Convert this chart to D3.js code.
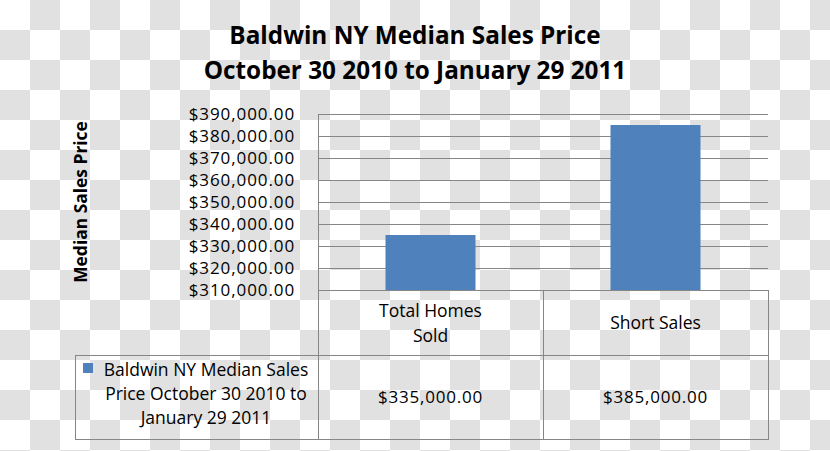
<!DOCTYPE html>
<html><head><meta charset="utf-8">
<script src="https://cdn.jsdelivr.net/npm/d3@7"></script>
<style>
html,body{margin:0;padding:0;background:#fff;}
svg text{font-family:"Open Sans",sans-serif;fill:#000;}
</style></head>
<body>
<svg id="c" width="830" height="451"></svg>
<script>
const titleLines = ["Baldwin NY Median Sales Price", "October 30 2010 to January 29 2011"];
const categories = [["Total Homes", "Sold"], ["Short Sales"]];
const values = [335000, 385000];
const valueLabels = ["$335,000.00", "$385,000.00"];
const tickValues = [310000, 320000, 330000, 340000, 350000, 360000, 370000, 380000, 390000];
const seriesName = ["Baldwin NY Median Sales", "Price October 30 2010 to", "January 29 2011"];
const yTitle = "Median Sales Price";

const svg = d3.select("#c");
const W = 830, H = 451;

// checkerboard background
const defs = svg.append("defs");
const pat = defs.append("pattern").attr("id","chk").attr("width",60).attr("height",60)
  .attr("patternUnits","userSpaceOnUse");
pat.append("rect").attr("width",60).attr("height",60).attr("fill","#ffffff");
pat.append("rect").attr("x",30).attr("y",0).attr("width",30).attr("height",30).attr("fill","#e1e1e1");
pat.append("rect").attr("x",0).attr("y",30).attr("width",30).attr("height",30).attr("fill","#e1e1e1");
svg.append("rect").attr("width",W).attr("height",H).attr("fill","url(#chk)");

const L = 318, R = 768, T = 114, B = 290;
const y = d3.scaleLinear().domain([310000, 390000]).range([B, T]);
const x = d3.scaleBand().domain(d3.range(categories.length)).range([L, R]).paddingInner(0).paddingOuter(0);
const grid = "#868686";

// title
svg.append("g").selectAll("text").data(titleLines).join("text")
  .attr("x", 415).attr("y", (d,i)=>44 + i*35)
  .attr("text-anchor","middle").attr("font-weight","bold").attr("font-size",24.3)
  .text(d=>d);

// gridlines
svg.append("g").selectAll("line").data(tickValues).join("line")
  .attr("x1",L).attr("x2",R).attr("y1",d=>Math.round(y(d))+0.5).attr("y2",d=>Math.round(y(d))+0.5)
  .attr("stroke",grid).attr("stroke-width",1);
// y axis line
svg.append("line").attr("x1",L+0.5).attr("x2",L+0.5).attr("y1",T).attr("y2",B).attr("stroke",grid);

// y axis via d3.axisLeft
const yAxis = d3.axisLeft(y).tickValues(tickValues).tickSize(0).tickPadding(0)
  .tickFormat(d => "$" + d3.format(",.2f")(d));
const ga = svg.append("g").attr("transform",`translate(${295},0)`).call(yAxis);
ga.select(".domain").remove();
ga.selectAll("text").attr("font-family","Open Sans").attr("font-size",17).attr("fill","#000")
  .attr("letter-spacing","0.9px").attr("dy","0.35em");

// y title
svg.append("text").attr("transform","translate(87,202) rotate(-90)")
  .attr("text-anchor","middle").attr("font-weight","bold").attr("font-size",17.4).text(yTitle);

// bars
const bw = 90;
svg.append("g").selectAll("rect").data(values).join("rect")
  .attr("x",(d,i)=>x(i)+x.bandwidth()/2-bw/2).attr("width",bw)
  .attr("y",d=>y(d)).attr("height",d=>B-y(d)).attr("fill","#4f81bd");

// data table
const tb = svg.append("g").attr("stroke",grid).attr("fill","none");
tb.append("line").attr("x1",L+0.5).attr("x2",L+0.5).attr("y1",B).attr("y2",440);
tb.append("line").attr("x1",R+0.5).attr("x2",R+0.5).attr("y1",B).attr("y2",440);
tb.append("line").attr("x1",x(1)+0.5).attr("x2",x(1)+0.5).attr("y1",B).attr("y2",440);
tb.append("line").attr("x1",75).attr("x2",R).attr("y1",355.5).attr("y2",355.5);
tb.append("line").attr("x1",75).attr("x2",R).attr("y1",439.5).attr("y2",439.5);
tb.append("line").attr("x1",75.5).attr("x2",75.5).attr("y1",355).attr("y2",440);

// category labels
categories.forEach((lines,i)=>{
  const cx = x(i)+x.bandwidth()/2;
  const y0 = 323 - (lines.length-1)*12.5;
  lines.forEach((t,j)=>{
    svg.append("text").attr("x",cx).attr("y",y0+j*25).attr("dy","0.35em")
      .attr("text-anchor","middle").attr("font-size",17.5).text(t);
  });
});
// values row
valueLabels.forEach((t,i)=>{
  svg.append("text").attr("x",x(i)+x.bandwidth()/2).attr("y",397).attr("dy","0.35em")
    .attr("text-anchor","middle").attr("font-size",17).attr("letter-spacing","0.8px").text(t);
});
// legend key
svg.append("rect").attr("x",83).attr("y",363).attr("width",10).attr("height",10).attr("fill","#4f81bd");
svg.append("g").selectAll("text").data(seriesName).join("text")
  .attr("x",206).attr("y",(d,i)=>370+i*24).attr("dy","0.35em")
  .attr("text-anchor","middle").attr("font-size",17.5).text(d=>d);
</script>
</body></html>
